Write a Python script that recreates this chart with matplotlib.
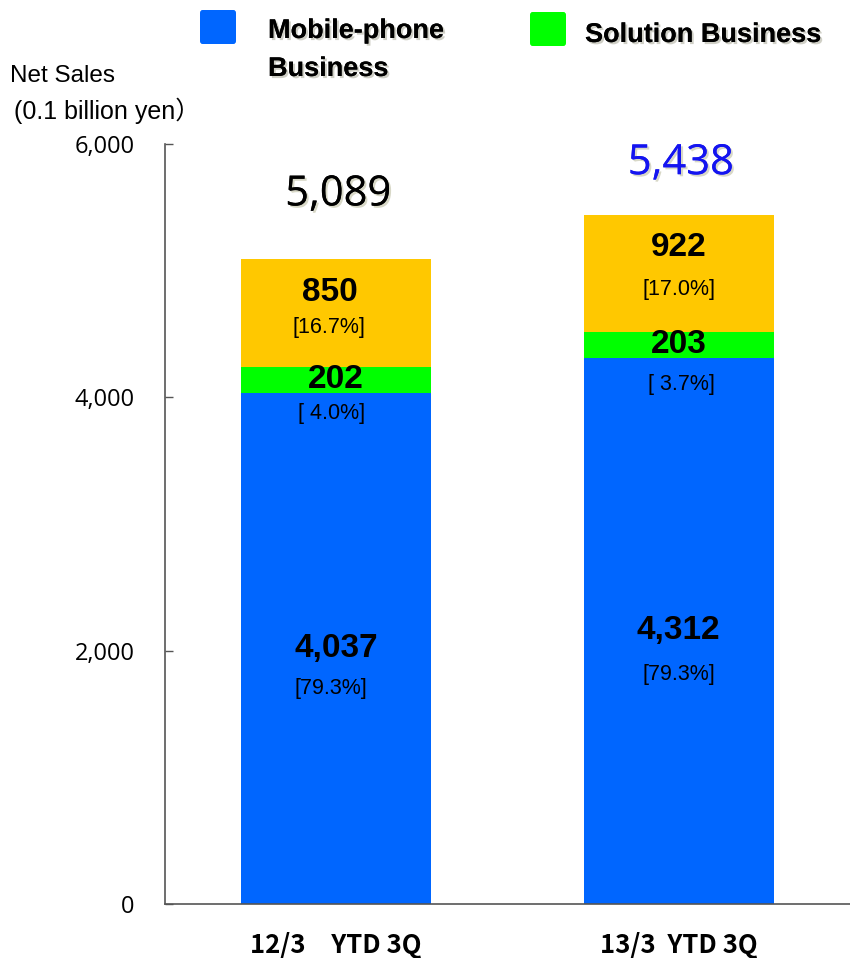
import matplotlib
matplotlib.use("Agg")
import matplotlib.pyplot as plt
import matplotlib.patheffects as pe
from matplotlib.patches import FancyBboxPatch

# Net sales by segment (0.1 billion yen)
periods = ["12/3\u3000YTD 3Q", "13/3  YTD 3Q"]
mobile = [4037, 4312]
solution = [202, 203]
others = [850, 922]
totals = [5089, 5438]
mobile_share = ["[79.3%]", "[79.3%]"]
solution_share = ["[ 4.0%]", "[ 3.7%]"]
others_share = ["[16.7%]", "[17.0%]"]
total_colors = ["black", "#1414F0"]
yticks = [0, 2000, 4000, 6000]
ytick_labels = ["0", "2,000", "4,000", "6,000"]

BLUE = "#0066FF"
GREEN = "#00FF00"
YELLOW = "#FFC800"

sans = ["Liberation Sans", "DejaVu Sans"]
jp = ["Noto Sans CJK JP", "DejaVu Sans"]

fig = plt.figure(figsize=(8.5, 9.58), dpi=100)
ax = fig.add_axes([165 / 850, 1 - 904 / 958, 1 - 165 / 850, (904 - 144) / 958])

x = list(range(len(periods)))
w = 0.554
bottom2 = [m + s for m, s in zip(mobile, solution)]
ax.bar(x, mobile, width=w, color=BLUE, zorder=2)
ax.bar(x, solution, width=w, bottom=mobile, color=GREEN, zorder=2)
ax.bar(x, others, width=w, bottom=bottom2, color=YELLOW, zorder=2)

ax.set_xlim(-0.5, 1.5)
ax.set_ylim(0, 6000)
ax.set_yticks(yticks)
ax.set_yticklabels(ytick_labels, fontsize=17, family=["Open Sans", "DejaVu Sans"])
ax.tick_params(axis="y", direction="in", length=6, width=1, color="#555555", pad=22)
ax.set_xticks(x)
ax.set_xticklabels(periods, fontsize=18.5, fontweight="bold", family=jp)
ax.tick_params(axis="x", length=0, pad=20)
for s in ["top", "right"]:
    ax.spines[s].set_visible(False)
for s in ["left", "bottom"]:
    ax.spines[s].set_color("#555555")
    ax.spines[s].set_linewidth(1.2)

val_kw = dict(ha="center", va="center", fontsize=24, fontweight="bold",
              family=sans, zorder=3, textcoords="offset pixels")
pct_kw = dict(ha="center", va="center", fontsize=15.5, family=sans, zorder=3,
              textcoords="offset pixels")

# offsets (pixels) of the value and share labels from each segment centre
mob_off = [(-5, -40), (0, -44)]
sol_off = [(-5, -34), (3, -40)]
oth_val_off = [21, 26]
oth_pct_off = [(-7, -14), (0, -16)]

for i in x:
    mc = mobile[i] / 2
    ax.annotate(f"{mobile[i]:,}", (i, mc), xytext=(0, 0), **val_kw)
    ax.annotate(mobile_share[i], (i, mc), xytext=mob_off[i], **pct_kw)
    sc = mobile[i] + solution[i] / 2
    ax.annotate(f"{solution[i]:,}", (i, sc), xytext=(0, 0), **val_kw)
    ax.annotate(solution_share[i], (i, sc), xytext=sol_off[i], **pct_kw)
    oc = bottom2[i] + others[i] / 2
    ax.annotate(f"{others[i]:,}", (i, oc), xytext=(-6 if i == 0 else 0, oth_val_off[i]), **val_kw)
    ax.annotate(others_share[i], (i, oc), xytext=oth_pct_off[i], **pct_kw)

shadow = [pe.withSimplePatchShadow(offset=(1.5, -1.5), shadow_rgbFace="#c8c8b0", alpha=0.7),
          pe.Normal()]
tot_off = [65, 52]
for i in x:
    ax.annotate(f"{totals[i]:,}", (i, totals[i]), xytext=(2, tot_off[i]),
                textcoords="offset pixels", ha="center", va="center", fontsize=30,
                color=total_colors[i], family=["Open Sans", "DejaVu Sans"],
                path_effects=shadow)


# legend drawn in figure coordinates
def fx(px):
    return px / 850


def fy(py):
    return 1 - py / 958


for (x0, y0, col) in [(200, 10, BLUE), (530, 12, GREEN)]:
    fig.patches.append(FancyBboxPatch((fx(x0), fy(y0 + 34)), 36 / 850, 34 / 958,
                                      boxstyle="round,pad=0,rounding_size=0.003",
                                      transform=fig.transFigure, color=col,
                                      linewidth=0))
leg_kw = dict(fontsize=19.5, fontweight="bold", family=sans, va="center", ha="left",
              path_effects=[pe.withSimplePatchShadow(offset=(1.5, -1.5),
                                                     shadow_rgbFace="#b0b0a0", alpha=0.6),
                            pe.Normal()])
fig.text(fx(268), fy(31), "Mobile-phone", **leg_kw)
fig.text(fx(268), fy(69), "Business", **leg_kw)
fig.text(fx(585), fy(35), "Solution Business", **leg_kw)

fig.text(fx(10), fy(76), "Net Sales", fontsize=17.5, family=sans, va="center", ha="left")
fig.text(fx(14), fy(111), "(0.1 billion yen\uff09", fontsize=18, family=sans + jp,
         va="center", ha="left")

fig.savefig("out.png", dpi=100)
